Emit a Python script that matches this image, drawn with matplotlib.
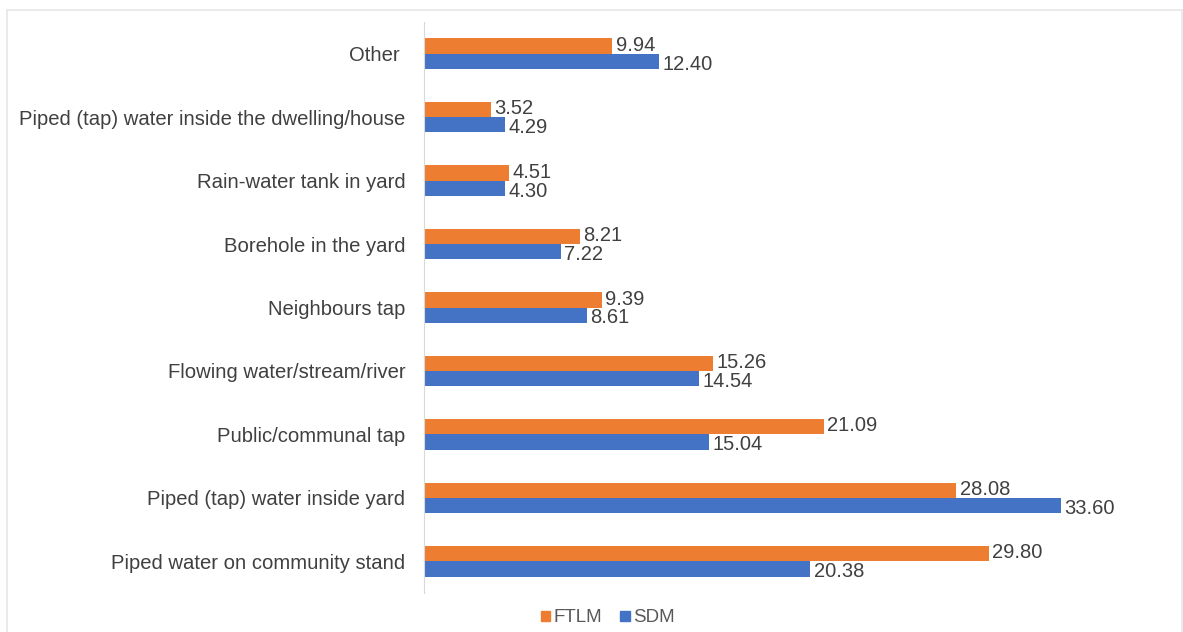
import matplotlib.pyplot as plt
import matplotlib.patches as mpatches
import numpy as np

plt.rcParams['font.family'] = ['Liberation Sans', 'DejaVu Sans']

# water source categories, bottom to top
categories = [
    'Piped water on community stand',
    'Piped (tap) water inside yard',
    'Public/communal tap',
    'Flowing water/stream/river',
    'Neighbours tap',
    'Borehole in the yard',
    'Rain-water tank in yard',
    'Piped (tap) water inside the dwelling/house',
    'Other ',
]
ftlm = [29.80, 28.08, 21.09, 15.26, 9.39, 8.21, 4.51, 3.52, 9.94]
sdm = [20.38, 33.60, 15.04, 14.54, 8.61, 7.22, 4.30, 4.29, 12.40]

orange = '#ED7D31'
blue = '#4472C4'
text_col = '#404040'

fig = plt.figure(figsize=(11.83, 6.32), dpi=100)
ax = fig.add_axes([424 / 1183, 1 - 593 / 632, (1144 - 424) / 1183, (593 - 22) / 632])

y = np.arange(len(categories))
h = 0.24
bars_f = ax.barh(y + h / 2, ftlm, height=h, color=orange)
bars_s = ax.barh(y - h / 2, sdm, height=h, color=blue)

# value labels sit on a baseline a little below each bar's centre,
# the lower series pushed down a bit more so the pair don't collide
for bars, vals, drop in ((bars_f, ftlm, -3.4), (bars_s, sdm, -6.0)):
    for b, v in zip(bars, vals):
        ax.annotate(f'{v:.2f}', (v, b.get_y() + b.get_height() / 2),
                    xytext=(2.5, drop), textcoords='offset points',
                    va='baseline', ha='left', fontsize=14.5, color=text_col)

ax.set_xlim(0, 38)
ax.set_ylim(-0.5, len(categories) - 0.5)
ax.set_yticks(y)
ax.set_yticklabels(categories, fontsize=14.6, color=text_col)
ax.tick_params(axis='y', length=0, pad=13.5)
ax.set_xticks([])
for side in ('top', 'right', 'bottom'):
    ax.spines[side].set_visible(False)
ax.spines['left'].set_color('#D9D9D9')

handles = [mpatches.Patch(color=orange, label='FTLM'),
           mpatches.Patch(color=blue, label='SDM')]
fig.legend(handles=handles, loc='center', bbox_to_anchor=(608 / 1183, 1 - 618 / 632),
           ncol=2, frameon=False, fontsize=13.5, handlelength=0.5, handleheight=0.5,
           handletextpad=0.2, columnspacing=0.95, labelcolor='#595959',
           borderpad=0, borderaxespad=0)

# light frame around the chart area
fig.patches.append(mpatches.Rectangle((7 / 1183, -0.05), (1182 - 7) / 1183, 1.05 - 10 / 632,
                                      transform=fig.transFigure, fill=False,
                                      edgecolor='#E6E6E6', linewidth=1.2))

fig.savefig('out.png', dpi=100)
